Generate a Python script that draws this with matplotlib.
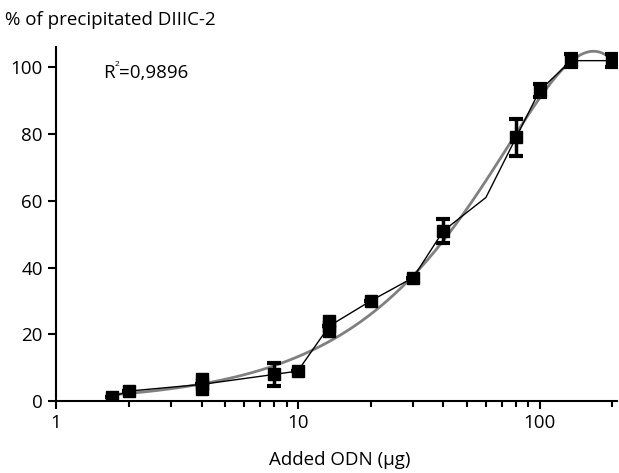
import matplotlib.pyplot as plt
import numpy as np

plt.rcParams['font.family'] = ['Open Sans', 'DejaVu Sans']

# measured points (ug of ODN added, % precipitated) with error
odn = [1.7, 2, 4, 8, 10, 13.5, 20, 30, 40, 60, 80, 100, 135, 200]
precip = [1.2, 3, 5, 8, 9, 22.5, 30, 37, 51, 61, 79, 93, 102, 102]
err = [0, 0, 0, 3.5, 0, 0, 0, 0, 3.5, 0, 5.5, 2, 2, 2]
has_marker = [True] * 9 + [False] + [True] * 4

# replicate points that show as stacked squares
rep_odn = [4, 4, 13.5, 13.5]
rep_precip = [3.5, 6.5, 21, 24]

x = np.array(odn)
y = np.array(precip)

# trend line: cubic polynomial fit in x
coef = np.polyfit(x, y, 3)
xf = np.logspace(np.log10(1.7), np.log10(200), 300)
yf = np.polyval(coef, xf)

fig = plt.figure(figsize=(6.19, 4.73), dpi=100)
ax = fig.add_axes([0.0905, 0.152, 0.907, 0.748])

ax.plot(xf, yf, color='#808080', lw=2, zorder=2)
ax.plot(x, y, color='black', lw=1, zorder=3)
m = np.array(has_marker)
ax.errorbar(x[m], y[m], yerr=np.array(err)[m], fmt='s', color='black',
            ms=9, capsize=5, capthick=3, elinewidth=2.5, zorder=4)
ax.plot(rep_odn, rep_precip, 's', color='black', ms=9, zorder=4)

ax.set_xscale('log')
ax.set_xlim(1, 210)
ax.set_ylim(0, 106)
ax.set_yticks([0, 20, 40, 60, 80, 100])
ax.set_xticks([1, 10, 100])
ax.set_xticklabels(['1', '10', '100'])
for s in ['top', 'right']:
    ax.spines[s].set_visible(False)
ax.spines['left'].set_linewidth(1.5)
ax.spines['bottom'].set_linewidth(1.5)
ax.tick_params(axis='both', which='major', length=6, width=1.5, labelsize=13.5)
ax.tick_params(axis='x', which='minor', length=4, width=1.5)

fig.text(103 / 619, 1 - 73 / 473, 'R', fontsize=13.5, va='center')
fig.text(115 / 619, 1 - 65 / 473, '2', fontsize=6, va='center')
fig.text(119 / 619, 1 - 73 / 473, '=0,9896', fontsize=13.5, va='center')
fig.text(5 / 619, 1 - 20 / 473, '% of precipitated DIIIC-2', fontsize=13.5, va='center')
fig.text(340 / 619, 1 - 460 / 473, 'Added ODN (\u03bcg)', fontsize=13.5, ha='center', va='center')

fig.savefig('out.png', dpi=100)
